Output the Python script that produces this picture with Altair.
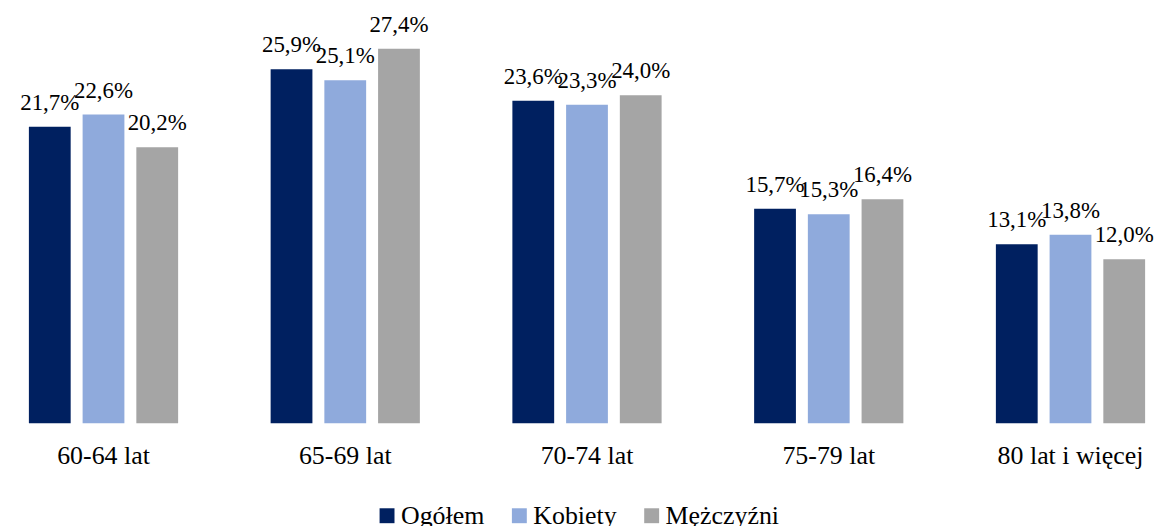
import altair as alt
import pandas as pd

categories = ["60-64 lat", "65-69 lat", "70-74 lat", "75-79 lat", "80 lat i więcej"]
series = ["Ogółem", "Kobiety", "Mężczyźni"]
ogolem = [21.7, 25.9, 23.6, 15.7, 13.1]
kobiety = [22.6, 25.1, 23.3, 15.3, 13.8]
mezczyzni = [20.2, 27.4, 24.0, 16.4, 12.0]
colors = ["#002060", "#8FAADC", "#A5A5A5"]

rows = []
for name, vals in zip(series, [ogolem, kobiety, mezczyzni]):
    for c, v in zip(categories, vals):
        rows.append({"kat": c, "seria": name, "val": v})
df = pd.DataFrame(rows)

FONT = "Liberation Serif"

x = alt.X("kat:N", sort=categories, title=None,
          scale=alt.Scale(paddingInner=0.3827, paddingOuter=0.0864),
          axis=alt.Axis(labelAngle=0, domain=False, ticks=False, labelPadding=19,
                        labelFontSize=26, labelFont=FONT, labelColor="#000000",
                        labelLimit=0))
xo = alt.XOffset("seria:N", sort=series,
                 scale=alt.Scale(paddingInner=0.2222, paddingOuter=0))
y = alt.Y("val:Q", axis=None, scale=alt.Scale(domain=[0, 30], nice=False, zero=True))

base = alt.Chart(df)

bars = base.mark_bar().encode(
    x=x, xOffset=xo, y=y,
    color=alt.Color("seria:N", sort=series,
                    scale=alt.Scale(domain=series, range=colors),
                    legend=alt.Legend(title=None, orient="none", direction="horizontal",
                                      legendX=368, legendY=492, symbolType="square",
                                      symbolSize=225, symbolStrokeWidth=0, labelFontSize=26,
                                      labelFont=FONT, labelColor="#000000", labelOffset=1,
                                      columnPadding=22, padding=0))
)

text = base.mark_text(baseline="alphabetic", dy=-17, fontSize=23, font=FONT, color="#000000").encode(
    x=x, xOffset=xo, y=y,
    text=alt.Text("lab:N")
).transform_calculate(lab="replace(format(datum.val, '.1f'), '.', ',') + '%'")

chart = alt.layer(bars, text).properties(
    width=1164, height=412,
    autosize=alt.AutoSizeParams(type="none"),
    padding={"left": 0, "top": 4, "right": 0, "bottom": 110},
).configure_view(stroke=None)

chart.save("out.html", embed_options={"renderer": "svg", "actions": False})
